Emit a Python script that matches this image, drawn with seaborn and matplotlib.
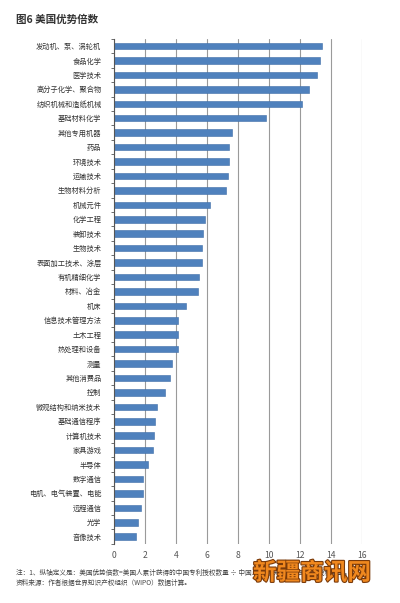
import numpy as np
import pandas as pd

import matplotlib
matplotlib.use("Agg")
import matplotlib.pyplot as plt
import matplotlib.patheffects as pe
import seaborn as sns

# ==========================================
# DATA
# ==========================================

categories = [
    "发动机、泵、涡轮机", "食品化学", "医学技术", "高分子化学、聚合物",
    "纺织机械和造纸机械", "基础材料化学", "其他专用机器", "药品",
    "环境技术", "运输技术", "生物材料分析", "机械元件",
    "化学工程", "装卸技术", "生物技术", "表面加工技术、涂层",
    "有机精细化学", "材料、冶金", "机床", "信息技术管理方法",
    "土木工程", "热处理和设备", "测量", "其他消费品",
    "控制", "微观结构和纳米技术", "基础通信程序", "计算机技术",
    "家具游戏", "半导体", "数字通信", "电机、电气装置、电能",
    "远程通信", "光学", "音像技术",
]

values = [
    13.4, 13.3, 13.1, 12.6,
    12.1, 9.8, 7.6, 7.4,
    7.4, 7.35, 7.25, 6.2,
    5.87, 5.74, 5.68, 5.65,
    5.48, 5.42, 4.65, 4.13,
    4.13, 4.13, 3.72, 3.59,
    3.26, 2.77, 2.62, 2.58,
    2.54, 2.22, 1.85, 1.85,
    1.77, 1.53, 1.40,
]

x_ticks = [0, 2, 4, 6, 8, 10, 12, 14, 16]

title = "图6 美国优势倍数"
note_1 = ("注：1、纵轴定义是：美国优势倍数=美国人累计获得的中国专利授权数量 ÷ "
          "中国人累计获得的美国专利授权数量。")
note_2 = "资料来源：作者根据世界知识产权组织（WIPO）数据计算。"
watermark = "新疆商讯网"

df = pd.DataFrame({
    "category": categories,
    "value": values
})

# ==========================================
# STYLE
# ==========================================

sns.set_style("white")

plt.rcParams["font.family"] = ["Noto Sans CJK SC", "DejaVu Sans"]

fig = plt.figure(figsize=(4, 6.03), dpi=100)

ax = fig.add_axes([0.285, 0.098, 0.62, 0.8375])

sns.barplot(
    data=df,
    x="value",
    y="category",
    orient="h",
    color="#4F81BD",
    edgecolor="#3E6EA8",
    linewidth=0.4,
    width=0.45,
    saturation=1,
    ax=ax
)

ax.set_xlim(0, 16)
ax.set_ylim(len(categories) - 0.5, -0.5)

ax.set_xticks(x_ticks)
ax.set_xticklabels([str(t) for t in x_ticks], fontsize=6.2, color="#555555")

ax.xaxis.grid(True, color="#9a9a9a", linewidth=0.8)
ax.set_axisbelow(True)

# category boundary ticks on the left spine
ax.set_yticks(np.arange(len(categories)))
ax.set_yticklabels(categories, fontsize=5.2, color="#333333")
ax.set_yticks(np.arange(len(categories) + 1) - 0.5, minor=True)
ax.tick_params(axis="y", which="major", length=0, pad=9)
ax.tick_params(axis="y", which="minor", length=2.5, width=0.6,
               color="#555555", direction="out", left=True)
ax.tick_params(axis="x", length=0, pad=5)

for side in ["top", "right", "bottom"]:
    ax.spines[side].set_visible(False)

ax.spines["left"].set_color("#555555")
ax.spines["left"].set_linewidth(0.8)

ax.set_xlabel("")
ax.set_ylabel("")

# ==========================================
# TEXT
# ==========================================

fig.text(
    0.04, 0.967, title,
    fontsize=7.6, fontweight="bold",
    color="#333333", ha="left", va="center"
)

fig.text(
    0.04, 0.050, note_1,
    fontsize=4.8, color="#444444",
    ha="left", va="center", style="italic"
)

fig.text(
    0.04, 0.033, note_2,
    fontsize=4.8, color="#444444",
    ha="left", va="center", style="italic"
)

fig.text(
    0.78, 0.050, watermark,
    fontsize=17, fontweight="bold",
    color="#F0881E", ha="center", va="center",
    path_effects=[
        pe.Stroke(linewidth=1.6, foreground="#7A3A0A"),
        pe.Normal()
    ]
)

plt.savefig("out.png", dpi=100)

plt.close()
